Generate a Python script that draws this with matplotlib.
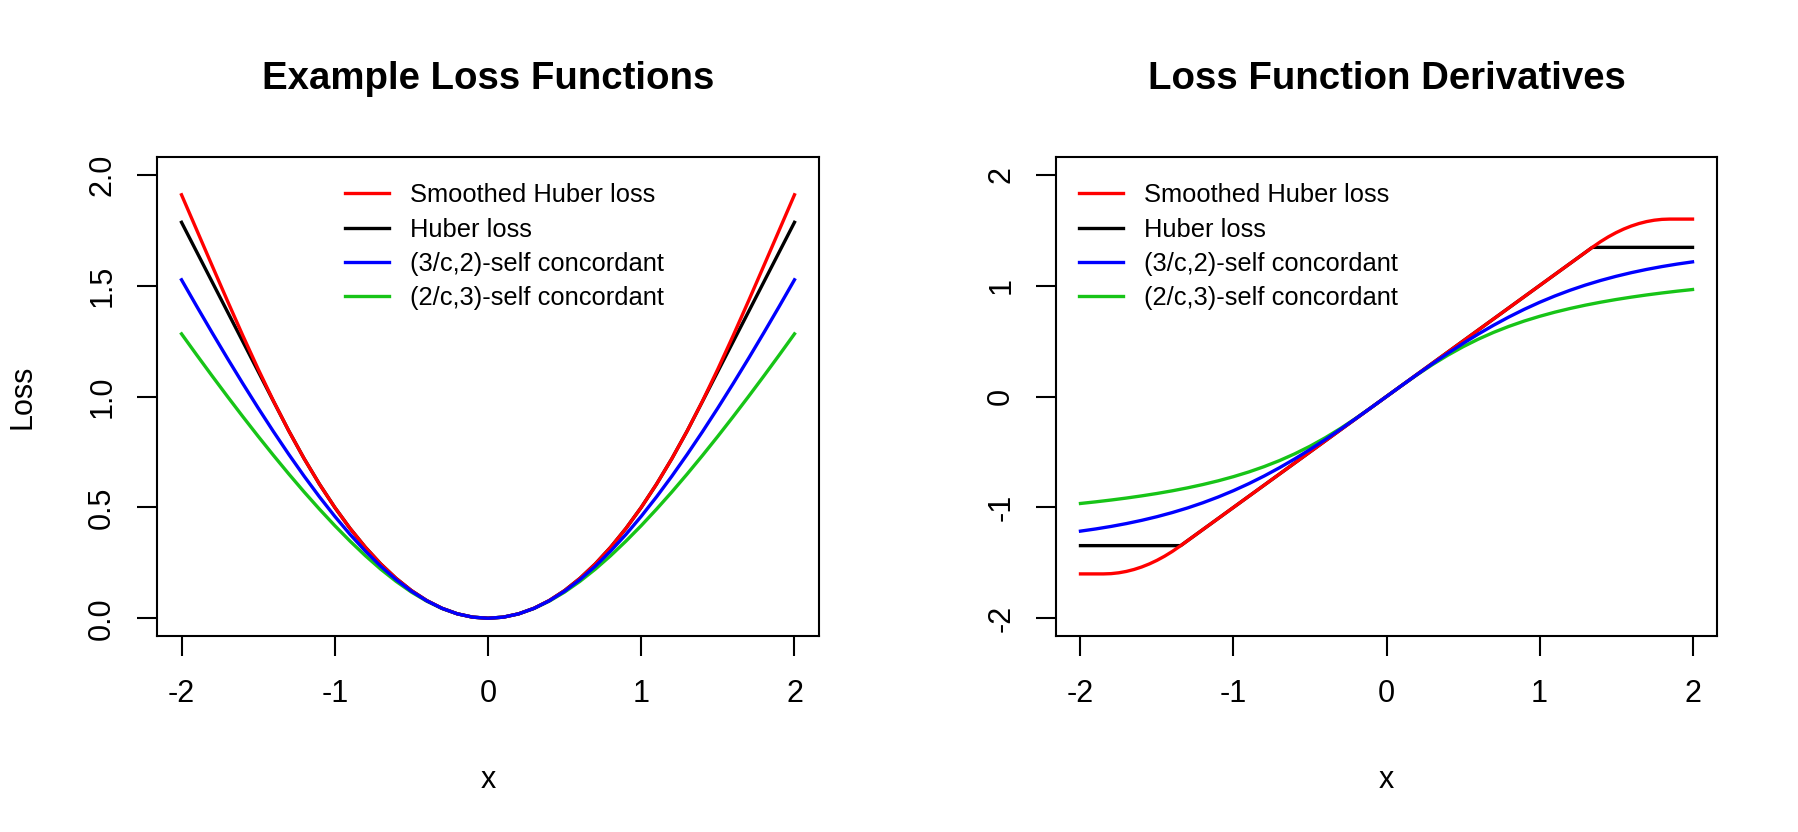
import matplotlib
matplotlib.use("Agg")
import matplotlib.pyplot as plt
from matplotlib.lines import Line2D

# ---------------- data ----------------
x_grid = [-2.0, -1.9, -1.8, -1.7, -1.6, -1.5, -1.4, -1.3, -1.2, -1.1, -1.0,
          -0.9, -0.8, -0.7, -0.6, -0.5, -0.4, -0.3, -0.2, -0.1, 0.0,
          0.1, 0.2, 0.3, 0.4, 0.5, 0.6, 0.7, 0.8, 0.9, 1.0,
          1.1, 1.2, 1.3, 1.4, 1.5, 1.6, 1.7, 1.8, 1.9, 2.0]

# Left panel: loss values
loss_smooth_huber = [1.9096, 1.7496, 1.5896, 1.4307, 1.2748, 1.1239, 0.98, 0.845, 0.72, 0.605, 0.5,
                     0.405, 0.32, 0.245, 0.18, 0.125, 0.08, 0.045, 0.02, 0.005, 0.0,
                     0.005, 0.02, 0.045, 0.08, 0.125, 0.18, 0.245, 0.32, 0.405, 0.5,
                     0.605, 0.72, 0.845, 0.98, 1.1239, 1.2748, 1.4307, 1.5896, 1.7496, 1.9096]
loss_huber = [1.7855, 1.651, 1.5165, 1.382, 1.2475, 1.113, 0.9785, 0.845, 0.72, 0.605, 0.5,
              0.405, 0.32, 0.245, 0.18, 0.125, 0.08, 0.045, 0.02, 0.005, 0.0,
              0.005, 0.02, 0.045, 0.08, 0.125, 0.18, 0.245, 0.32, 0.405, 0.5,
              0.605, 0.72, 0.845, 0.9785, 1.113, 1.2475, 1.382, 1.5165, 1.651, 1.7855]
loss_sc32 = [1.5263, 1.4058, 1.2875, 1.1715, 1.0584, 0.9483, 0.8417, 0.7391, 0.6409, 0.5476, 0.4598,
             0.3779, 0.3028, 0.2347, 0.1743, 0.1222, 0.0789, 0.0446, 0.0199, 0.005, 0.0,
             0.005, 0.0199, 0.0446, 0.0789, 0.1222, 0.1743, 0.2347, 0.3028, 0.3779, 0.4598,
             0.5476, 0.6409, 0.7391, 0.8417, 0.9483, 1.0584, 1.1715, 1.2875, 1.4058, 1.5263]
loss_sc23 = [1.2824, 1.1866, 1.0924, 0.9999, 0.9093, 0.8207, 0.7345, 0.6507, 0.5697, 0.4921, 0.4178,
             0.3477, 0.2819, 0.2213, 0.1665, 0.1181, 0.0771, 0.044, 0.0198, 0.005, 0.0,
             0.005, 0.0198, 0.044, 0.0771, 0.1181, 0.1665, 0.2213, 0.2819, 0.3477, 0.4178,
             0.4921, 0.5697, 0.6507, 0.7345, 0.8207, 0.9093, 0.9999, 1.0924, 1.1866, 1.2824]

# Right panel: derivatives
deriv_smooth_x = [-2.0, -1.85, -1.8, -1.75, -1.7, -1.65, -1.6, -1.55, -1.5, -1.45, -1.4, -1.35,
                  1.35, 1.4, 1.45, 1.5, 1.55, 1.6, 1.65, 1.7, 1.75, 1.8, 1.85, 2.0]
deriv_smooth_huber = [-1.6, -1.6, -1.5975, -1.59, -1.5775, -1.56, -1.5375, -1.51, -1.4775, -1.44, -1.3975, -1.35,
                      1.35, 1.3975, 1.44, 1.4775, 1.51, 1.5375, 1.56, 1.5775, 1.59, 1.5975, 1.6, 1.6]
deriv_huber_x = [-2.0, -1.345, 1.345, 2.0]
deriv_huber = [-1.345, -1.345, 1.345, 1.345]
deriv_sc32 = [-1.2142, -1.1944, -1.1718, -1.1461, -1.1169, -1.0839, -1.0467, -1.005, -0.9583, -0.9064, -0.8491,
              -0.7861, -0.7173, -0.6429, -0.5631, -0.4782, -0.3886, -0.2951, -0.1985, -0.0998, 0.0,
              0.0998, 0.1985, 0.2951, 0.3886, 0.4782, 0.5631, 0.6429, 0.7173, 0.7861, 0.8491,
              0.9064, 0.9583, 1.005, 1.0467, 1.0839, 1.1169, 1.1461, 1.1718, 1.1944, 1.2142]
deriv_sc23 = [-0.9648, -0.95, -0.9337, -0.9159, -0.8962, -0.8746, -0.8505, -0.8238, -0.7939, -0.7605, -0.7228,
              -0.6805, -0.6325, -0.5784, -0.5172, -0.4485, -0.3719, -0.2875, -0.1961, -0.0995, 0.0,
              0.0995, 0.1961, 0.2875, 0.3719, 0.4485, 0.5172, 0.5784, 0.6325, 0.6805, 0.7228,
              0.7605, 0.7939, 0.8238, 0.8505, 0.8746, 0.8962, 0.9159, 0.9337, 0.95, 0.9648]

series_labels = ["Smoothed Huber loss", "Huber loss", "(3/c,2)-self concordant", "(2/c,3)-self concordant"]
series_colors = ["#FF0000", "#000000", "#0000FF", "#17C417"]

x_ticks = [-2, -1, 0, 1, 2]
x_ticklabels = ["-2", "-1", "0", "1", "2"]
left_yticks = [0.0, 0.5, 1.0, 1.5, 2.0]
left_yticklabels = ["0.0", "0.5", "1.0", "1.5", "2.0"]
right_yticks = [-2, -1, 0, 1, 2]
right_yticklabels = ["-2", "-1", "0", "1", "2"]

titles = ["Example Loss Functions", "Loss Function Derivatives"]

# ---------------- figure ----------------
W, H = 1798, 832
DPI = 100
FONT = "Liberation Sans"
plt.rcParams["font.family"] = [FONT, "DejaVu Sans"]

fig = plt.figure(figsize=(W / DPI, H / DPI), dpi=DPI)

def px_rect(l, t, r, b):
    return [l / W, 1 - b / H, (r - l) / W, (b - t) / H]

axL = fig.add_axes(px_rect(157, 157, 819, 636))
axR = fig.add_axes(px_rect(1056, 157, 1717, 636))

CURVE_LW = 2.4
AX_LW = 1.5
TICK_FS = 22.0
TITLE_FS = 27.6
LEG_FS = 18.4

# left panel curves
axL.plot(x_grid, loss_sc23, color=series_colors[3], lw=CURVE_LW, zorder=2)
axL.plot(x_grid, loss_huber, color=series_colors[1], lw=CURVE_LW, zorder=3)
axL.plot(x_grid, loss_smooth_huber, color=series_colors[0], lw=CURVE_LW, zorder=4)
axL.plot(x_grid, loss_sc32, color=series_colors[2], lw=CURVE_LW, zorder=5)

# right panel curves
axR.plot(x_grid, deriv_sc23, color=series_colors[3], lw=CURVE_LW, zorder=2)
axR.plot(deriv_huber_x, deriv_huber, color=series_colors[1], lw=CURVE_LW, zorder=3)
axR.plot(deriv_smooth_x, deriv_smooth_huber, color=series_colors[0], lw=CURVE_LW, zorder=4)
axR.plot(x_grid, deriv_sc32, color=series_colors[2], lw=CURVE_LW, zorder=5)

axL.set_xlim(-2.16, 2.16)
axL.set_ylim(-0.08, 2.08)
axR.set_xlim(-2.16, 2.16)
axR.set_ylim(-2.16, 2.16)

for ax, yt, ytl, title in [(axL, left_yticks, left_yticklabels, titles[0]),
                           (axR, right_yticks, right_yticklabels, titles[1])]:
    for s in ax.spines.values():
        s.set_linewidth(AX_LW)
        s.set_color("black")
    ax.set_xticks(x_ticks)
    ax.set_xticklabels(x_ticklabels, fontsize=TICK_FS)
    ax.set_yticks(yt)
    ax.set_yticklabels(ytl, fontsize=TICK_FS, rotation=90, va="center")
    ax.tick_params(axis="both", direction="out", length=14.2, width=AX_LW)
    ax.tick_params(axis="x", pad=16.5)
    ax.tick_params(axis="y", pad=14.5)
    ax.text(0.5, (636 - 89.3) / 479, title, transform=ax.transAxes, ha="center",
            va="baseline", fontsize=TITLE_FS, fontweight="bold")
    ax.set_xlabel("x", fontsize=TICK_FS, va="center")
    ax.xaxis.set_label_coords(0.5, (636 - 780) / 479)

axL.set_ylabel("Loss", fontsize=TICK_FS, va="center", ha="center")
axL.yaxis.set_label_coords((22.5 - 157) / 662, 0.5)

# legends (drawn manually, no frame, like R's bty="n")
row_y = [193.3, 227.6, 261.9, 296.2]

def draw_legend(line_x0, line_x1, text_x):
    for y, lab, col in zip(row_y, series_labels, series_colors):
        fig.add_artist(Line2D([line_x0 / W, line_x1 / W], [1 - y / H, 1 - y / H],
                              transform=fig.transFigure, color=col, lw=CURVE_LW))
        fig.text(text_x / W, 1 - (y + 9.0) / H, lab, ha="left", va="baseline",
                 fontsize=LEG_FS)

draw_legend(345, 389, 410)
draw_legend(1079, 1123, 1144)

fig.savefig("out.png", dpi=DPI)
